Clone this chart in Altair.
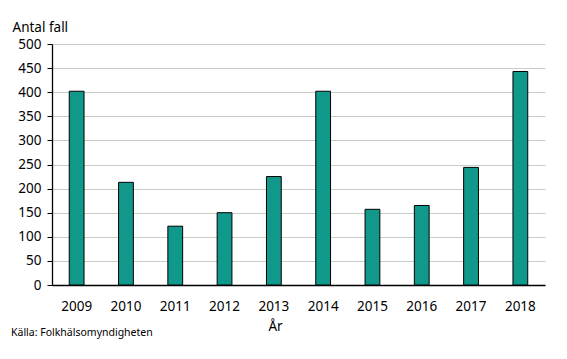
import altair as alt
import pandas as pd

years = ["2009", "2010", "2011", "2012", "2013", "2014", "2015", "2016", "2017", "2018"]
cases = [402, 213, 122, 150, 225, 402, 157, 165, 244, 443]
y_ticks = [0, 50, 100, 150, 200, 250, 300, 350, 400, 450, 500]
source_text = "Källa: Folkhälsomyndigheten"

df = pd.DataFrame({"year": years, "cases": cases})
FONT = "Noto Sans"

bars = alt.Chart(df).mark_bar(
    color="#10998a", stroke="black", strokeWidth=1
).encode(
    x=alt.X("year:N", sort=years,
            scale=alt.Scale(paddingInner=0.7, paddingOuter=0.35),
            axis=alt.Axis(title="År", labelAngle=0, ticks=False, grid=False,
                          domainColor="black", domainWidth=1.3,
                          labelFont=FONT, labelFontSize=13.5, labelColor="black",
                          labelPadding=14, labelBaseline="top",
                          titleFont=FONT, titleFontSize=13.5, titleFontWeight="normal",
                          titleColor="black", titleX=223, titleY=45,
                          titleBaseline="alphabetic")),
    y=alt.Y("cases:Q", scale=alt.Scale(domain=[0, 500], nice=False),
            axis=alt.Axis(title="Antal fall", values=y_ticks, tickSize=5,
                          tickColor="black", tickWidth=1, domainColor="black",
                          domainWidth=1.3, gridColor="#c6cec6", gridWidth=1.2,
                          labelFont=FONT, labelFontSize=13.5, labelColor="black",
                          labelPadding=6,
                          titleFont=FONT, titleFontSize=13.5, titleFontWeight="normal",
                          titleColor="black", titleAngle=0, titleAlign="left",
                          titleX=-40, titleY=-13, titleBaseline="alphabetic")),
)

caption = alt.Chart(pd.DataFrame({"t": [source_text]})).mark_text(
    align="left", baseline="alphabetic", font=FONT, fontSize=10.5, color="black"
).encode(text="t:N", x=alt.value(-41), y=alt.value(292))

chart = alt.layer(bars, caption).properties(
    width=493, height=241,
    padding={"left": 44, "top": 36, "right": 14, "bottom": 60},
    autosize=alt.AutoSizeParams(type="none"),
).configure_view(stroke=None)

chart.save("out.html", embed_options={"renderer": "svg", "actions": False})
